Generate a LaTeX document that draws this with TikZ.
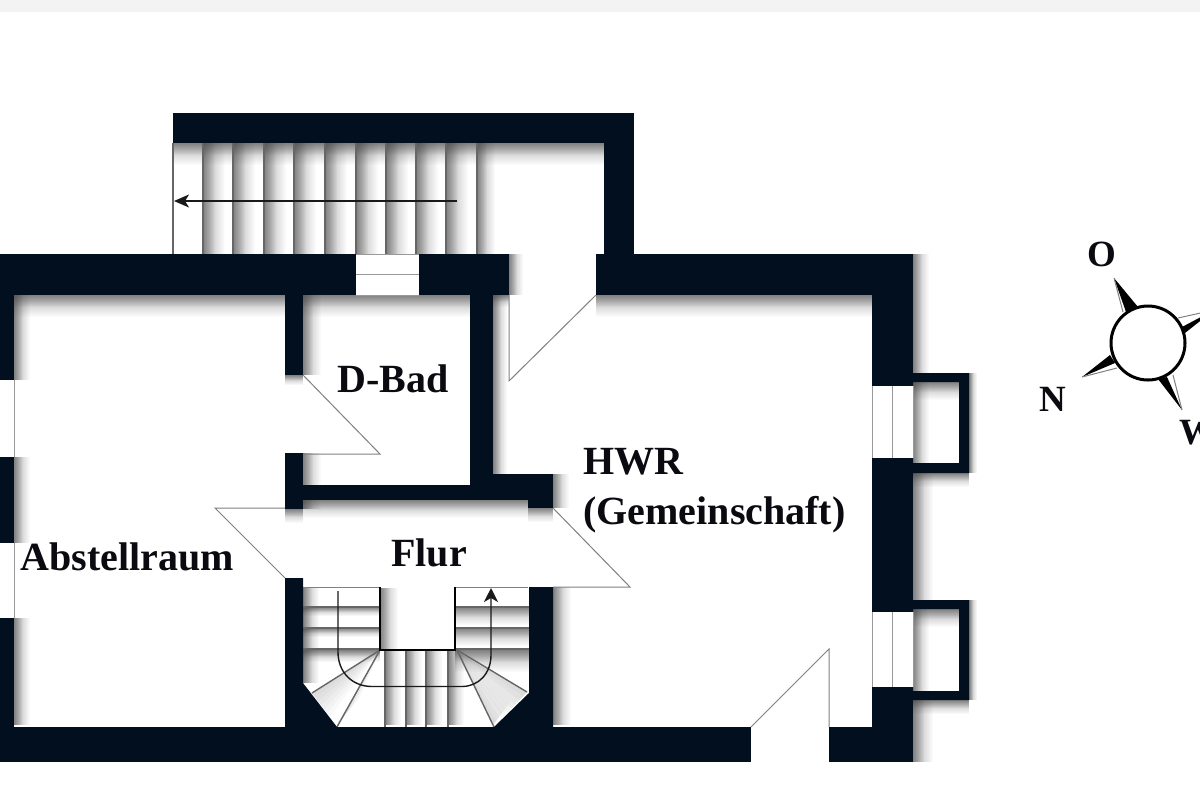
\documentclass[tikz,border=0pt]{standalone}
\usepackage{fontspec}
\setmainfont{Liberation Serif}
\usetikzlibrary{fadings,arrows.meta}
\definecolor{wallc}{HTML}{020F1F}
\definecolor{shadowc}{HTML}{444444}
\definecolor{linec}{HTML}{666666}
\definecolor{doorc}{HTML}{808080}
\definecolor{textc}{HTML}{0A0A10}
\definecolor{stripc}{HTML}{F3F3F3}
\newcommand{\sdE}[4]{\fill[shadowc,opacity=.42,path fading=east] (#1,#2) rectangle ({#1+#4},#3);\fill[shadowc,opacity=.42,path fading=east] (#1,#2) rectangle ({#1+0.55*#4},#3);}
\newcommand{\sdS}[4]{\fill[shadowc,opacity=.42,path fading=south] (#1,#3) rectangle (#2,{#3+#4});\fill[shadowc,opacity=.42,path fading=south] (#1,#3) rectangle (#2,{#3+0.55*#4});}
\newcommand{\fanS}[6]{\foreach \i in {1,...,6}{\fill[shadowc,opacity=.03] (#1,#2) -- (#3,#4) -- ({#3+\i*#5},{#4+\i*#6}) -- cycle;}}
\tikzset{
  wall/.style={fill=wallc,draw=none},
  tread/.style={draw=linec,line width=.7pt},
  door/.style={draw=doorc,line width=.5pt},
  winline/.style={draw=doorc!80,line width=.5pt},
  flight/.style={draw=black!90,line width=.7pt},
  room/.style={anchor=base west,inner sep=0pt,text=textc,font=\fontsize{20}{24}\selectfont\bfseries},
  compasslabel/.style={inner sep=0pt,text=textc,font=\fontsize{18.5}{22}\selectfont\bfseries}
}
\begin{document}
\begin{tikzpicture}[x=0.5pt,y=-0.5pt]
\useasboundingbox (0,0) rectangle (1200,800);
\clip (0,0) rectangle (1200,800);
\fill[white] (0,0) rectangle (1200,800);
\fill[stripc] (0,0) rectangle (1200,12);

% --- soft shadows ---
\sdS{173}{604}{143}{22}
\foreach \x in {203,233,264,294,325,356,386,416,446}{\sdE{\x}{143}{254}{22}}
\sdE{477}{143}{254}{18}
\sdS{14}{285}{295}{22}
\sdS{303}{470}{295}{22}
\sdS{493}{509}{295}{12}
\sdS{596}{872}{295}{22}
\sdE{14}{295}{380}{16}
\sdE{14}{457}{543}{16}
\sdE{14}{618}{725}{16}
\sdE{303}{295}{375}{18}
\sdE{303}{453}{509}{18}
\sdS{285}{303}{375}{10}
\sdE{493}{295}{474}{14}
\sdE{509}{254}{295}{14}
\sdE{553}{474}{508}{16}
\sdS{303}{528}{500}{18}
\sdS{285}{303}{509}{14}
\sdS{528}{553}{508}{14}
\sdE{553}{587}{725}{18}
\sdE{913}{254}{373}{16}
\sdE{913}{473}{600}{20}
\sdE{913}{700}{762}{20}
\sdE{969}{373}{473}{8}
\sdE{969}{600}{700}{8}
\sdS{913}{969}{473}{14}
\sdS{913}{969}{700}{14}
\sdS{913}{959}{382}{18}
\sdS{913}{959}{609}{18}
\sdE{913}{382}{463}{16}
\sdE{913}{609}{691}{16}

% --- lower stair shading ---
\sdE{303}{588}{683}{16}
\sdE{380}{588}{649}{18}
\sdS{303}{380}{607}{9}
\sdS{303}{380}{628}{9}
\sdS{303}{380}{650}{12}
\sdS{455}{529}{607}{18}
\sdS{455}{529}{628}{18}
\sdS{455}{529}{650}{22}
\foreach \x in {385,406,426,448}{\sdE{\x}{650}{725}{16}}
\fanS{380}{650}{337}{725}{4}{-5}
\fanS{380}{650}{312}{693}{3}{4}
\fanS{457}{652}{493}{725}{3}{-4}
\fanS{457}{652}{527}{692}{-4}{4}

% --- thin lines: upper stair ---
\foreach \x in {173,203,233,264,294,325,356,386,416,446,477}{\draw[tread] (\x,143) -- (\x,254);}
\draw[flight,-{Stealth[length=7.5pt,width=6.5pt,inset=2pt]}] (457,201) -- (174,201);

% --- thin lines: doors ---
\draw[door] (509,295) -- (509,381) -- (596,295);
\draw[door] (303,375) -- (380,454) -- (303,454);
\draw[door] (285,578) -- (215,508) -- (285,508);
\draw[door] (553,508) -- (630,587) -- (553,587);
\draw[door] (751,727) -- (829,649) -- (829,727);

% --- thin lines: lower stair ---
\draw[door] (303,587) -- (380,587);
\draw[door] (455,587) -- (528,587);
\foreach \y in {607,628,649}{\draw[tread] (303,\y) -- (380,\y); \draw[tread] (455,\y) -- (529,\y);}
\foreach \x in {385,406,426,448}{\draw[tread] (\x,650) -- (\x,727);}
\draw[tread] (380,650) -- (337,727);
\draw[tread] (380,650) -- (312,693);
\draw[tread] (457,650) -- (494,727);
\draw[tread] (457,650) -- (527,692);
\draw[black,line width=1.1pt] (380,587) -- (380,650) -- (455,650) -- (455,587);
\draw[flight,-{Stealth[length=7pt,width=7pt,inset=2pt]}] (338,591) -- (338,652)
  .. controls (338,672) and (352,686.5) .. (372,686.5) -- (462,686.5)
  .. controls (478,686.5) and (491,674) .. (491,655) -- (491,588);

% --- walls ---
\fill[wall] (173,113) rectangle (634,143);
\fill[wall] (604,113) rectangle (634,254);
\fill[wall] (0,254) rectangle (356,295);
\fill[wall] (419,254) rectangle (509,295);
\fill[wall] (596,254) rectangle (913,295);
\fill[wall] (0,295) rectangle (14,380);
\fill[wall] (0,457) rectangle (14,543);
\fill[wall] (0,618) rectangle (14,762);
\fill[wall] (0,727) rectangle (751,762);
\fill[wall] (829,727) rectangle (913,762);
\fill[wall] (872,295) rectangle (913,386);
\fill[wall] (872,458) rectangle (913,612);
\fill[wall] (872,687) rectangle (913,762);
\fill[wall] (285,295) rectangle (303,375);
\fill[wall] (285,453) rectangle (303,509);
\fill[wall] (470,295) rectangle (493,485);
\fill[wall] (303,485) rectangle (553,500);
\fill[wall] (493,474) rectangle (553,500);
\fill[wall] (528,500) rectangle (553,508);
\fill[wall] (285,578) -- (303,578) -- (303,683) -- (337,727) -- (285,727) -- cycle;
\fill[wall] (529,587) -- (553,587) -- (553,727) -- (494,727) -- (529,693) -- cycle;
% light wells
\fill[wall,even odd rule] (913,373) rectangle (969,473) (913,382) rectangle (959,463);
\fill[wall,even odd rule] (913,600) rectangle (969,700) (913,609) rectangle (959,691);

% --- windows ---
\draw[winline] (356,254) -- (419,254) (356,274) -- (419,274) (356,295) -- (419,295);
\draw[winline] (14,380) -- (14,457) (14,543) -- (14,618);
\foreach \x in {872,892,913}{\draw[winline] (\x,386) -- (\x,458); \draw[winline] (\x,612) -- (\x,687);}

% --- labels ---
\node[room] (abstell) at (20,570) {Abstellraum};
\node[room] (bad) at (337,392) {D-Bad};
\node[room] (hwr) at (583,474) {HWR};
\node[room] (gemein) at (583,524) {(Gemeinschaft)};
\node[room] (flur) at (391,566) {Flur};

% --- compass ---
\fill[black] (1114,278) -- (1138,307) -- (1126,312) -- cycle;
\draw[doorc,line width=.5pt] (1114,278) -- (1123,312);
\fill[black] (1082,377) -- (1110,355) -- (1115,363) -- cycle;
\draw[doorc,line width=.5pt] (1082,377) -- (1117,368);
\fill[black] (1182,410) -- (1158,379) -- (1167,377) -- cycle;
\draw[doorc,line width=.5pt] (1182,410) -- (1173,375);
\fill[black] (1214,310) -- (1182,327) -- (1185,333) -- cycle;
\draw[doorc,line width=.5pt] (1214,310) -- (1178,318);
\node[circle,draw=black,fill=white,line width=1.5pt,minimum size=37pt,inner sep=0pt] (compass) at (1148,343) {};
\node[compasslabel] (ost) at (1102,254) {O};
\node[compasslabel] (nord) at (1053,399) {N};
\node[compasslabel,anchor=west] (west) at (1179,433) {W};
\end{tikzpicture}
\end{document}
